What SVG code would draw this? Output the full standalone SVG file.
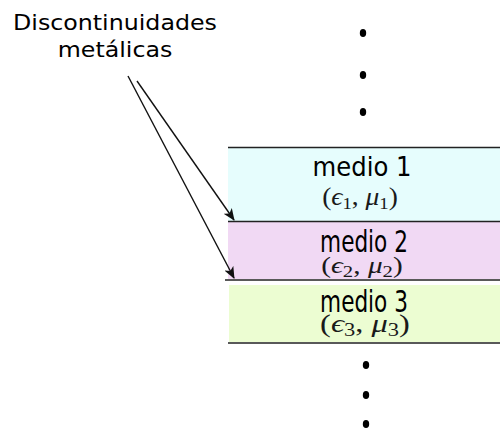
<svg xmlns="http://www.w3.org/2000/svg" width="500" height="428" viewBox="0 0 500 428">
  <style>
    .lbl { font-family: "DejaVu Sans Condensed", "DejaVu Sans", sans-serif; font-stretch: condensed; fill: #000; text-anchor: middle; }
    .note { font-family: "DejaVu Sans", sans-serif; font-size: 21px; fill: #000; text-anchor: middle; }
    .math { font-family: "Liberation Serif", "DejaVu Serif", serif; fill: #1a1a1a; text-anchor: middle; }
    .it { font-style: italic; }
    .edge { stroke: #222; stroke-width: 1.6; fill: none; }
    .link { stroke: #111; stroke-width: 1.4; fill: none; marker-end: url(#head); }
    .dot { fill: #000; }
  </style>
  <defs>
    <marker id="head" viewBox="0 0 12 10" refX="11" refY="5" markerWidth="12" markerHeight="10" markerUnits="userSpaceOnUse" orient="auto">
      <path d="M0,0 L12,5 L0,10 L3,5 Z" fill="#111"/>
    </marker>
  </defs>

  <rect width="500" height="428" fill="#fff"/>

  <!-- layer 1 -->
  <g id="medio1">
    <rect x="228" y="148" width="272" height="73" fill="#e6fdfd"/>
    <line class="edge" x1="228" y1="147.5" x2="500" y2="147.5"/>
    <text class="lbl" font-size="27" x="362" y="176">medio 1</text>
    <text class="math" font-size="25" transform="translate(360,205) scale(1.1,1)">(<tspan class="it">ϵ</tspan><tspan font-size="17" dy="4">1</tspan><tspan dy="-4">, </tspan><tspan class="it">μ</tspan><tspan font-size="17" dy="4">1</tspan><tspan dy="-4">)</tspan></text>
  </g>

  <!-- layer 2 -->
  <g id="medio2">
    <rect x="228" y="222" width="272" height="57" fill="#f1d9f4"/>
    <line class="edge" x1="228" y1="221.5" x2="500" y2="221.5"/>
    <line class="edge" x1="225" y1="280" x2="500" y2="280"/>
    <text class="lbl" font-size="30" transform="translate(364,252) scale(0.8,1)">medio 2</text>
    <text class="math" font-size="24" transform="translate(362,273) scale(1.22,1)">(<tspan class="it">ϵ</tspan><tspan font-size="17" dy="4">2</tspan><tspan dy="-4">, </tspan><tspan class="it">μ</tspan><tspan font-size="17" dy="4">2</tspan><tspan dy="-4">)</tspan></text>
  </g>

  <!-- layer 3 -->
  <g id="medio3">
    <rect x="229" y="285" width="271" height="57" fill="#ecfdd2"/>
    <line class="edge" x1="228" y1="343" x2="500" y2="343"/>
    <text class="lbl" font-size="30" transform="translate(364,312) scale(0.8,1)">medio 3</text>
    <text class="math" font-size="26" transform="translate(365,332) scale(1.25,1)">(<tspan class="it">ϵ</tspan><tspan font-size="18" dy="4">3</tspan><tspan dy="-4">, </tspan><tspan class="it">μ</tspan><tspan font-size="18" dy="4">3</tspan><tspan dy="-4">)</tspan></text>
  </g>

  <!-- continuation dots -->
  <g id="dots-top">
    <ellipse class="dot" cx="363" cy="33" rx="3.2" ry="4"/>
    <ellipse class="dot" cx="363" cy="75" rx="3.2" ry="4"/>
    <ellipse class="dot" cx="363" cy="112" rx="3.2" ry="4"/>
  </g>
  <g id="dots-bottom">
    <ellipse class="dot" cx="366" cy="365" rx="3.2" ry="4"/>
    <ellipse class="dot" cx="366" cy="395" rx="3.2" ry="4"/>
    <ellipse class="dot" cx="366" cy="424" rx="3.2" ry="4"/>
  </g>

  <!-- annotation -->
  <g id="nota">
    <text class="note" transform="translate(115,30) scale(1.13,1)">Discontinuidades</text>
    <text class="note" transform="translate(115,57) scale(1.13,1)">metálicas</text>
  </g>

  <!-- connectors -->
  <g id="connectors">
    <line class="link" x1="137" y1="81" x2="234" y2="220"/>
    <line class="link" x1="128" y1="76" x2="234" y2="278"/>
  </g>
</svg>
